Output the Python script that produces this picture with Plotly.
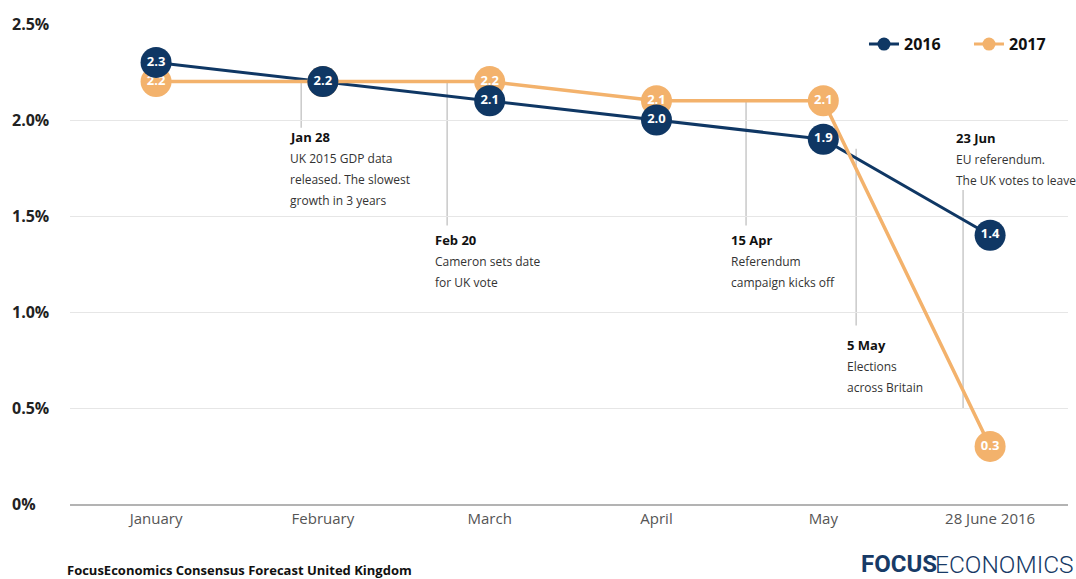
import plotly.graph_objects as go

# Consensus forecasts for UK GDP growth (%), by survey month
months = ["January", "February", "March", "April", "May", "28 June 2016"]
gdp_2016 = [2.3, 2.2, 2.1, 2.0, 1.9, 1.4]
gdp_2017 = [2.2, 2.2, 2.2, 2.1, 2.1, 0.3]

y_ticks = [0, 0.5, 1.0, 1.5, 2.0, 2.5]
y_tick_labels = ["0%", "0.5%", "1.0%", "1.5%", "2.0%", "2.5%"]

# Key events during the survey period
event_titles = ["Jan 28", "Feb 20", "15 Apr", "5 May", "23 Jun"]
event_texts = [
    ["UK 2015 GDP data", "released. The slowest", "growth in 3 years"],
    ["Cameron sets date", "for UK vote"],
    ["Referendum", "campaign kicks off"],
    ["Elections", "across Britain"],
    ["EU referendum.", "The UK votes to leave"],
]

# Placement of each event marker line and its note (axis units)
event_x = [0.87, 1.745, 3.537, 4.197, 4.838]
event_line_top = [2.2, 2.2, 2.1, 1.85, 1.635]
event_line_bottom = [1.96, 1.45, 1.45, 0.93, 0.5]
note_x = [0.791, 1.661, 3.435, 4.131, 4.783]
note_y = [1.911, 1.375, 1.375, 0.828, 1.906]

NAVY = "#0f3764"
ORANGE = "#f3b26c"
FONT = "Open Sans"

xs = list(range(len(months)))
fig = go.Figure()

# connecting lines first, then the labelled markers on top
fig.add_trace(go.Scatter(x=xs, y=gdp_2016, mode="lines",
                         line=dict(color=NAVY, width=3), showlegend=False, hoverinfo="skip"))
fig.add_trace(go.Scatter(x=xs, y=gdp_2017, mode="lines",
                         line=dict(color=ORANGE, width=3.5), showlegend=False, hoverinfo="skip"))
fig.add_trace(go.Scatter(
    x=xs, y=gdp_2017, mode="markers+text",
    marker=dict(color=ORANGE, size=31, line=dict(width=0)),
    text=[f"{v:.1f}" for v in gdp_2017], textposition="middle center",
    textfont=dict(color="white", size=13, family=FONT, weight="bold"),
    showlegend=False))
fig.add_trace(go.Scatter(
    x=xs, y=gdp_2016, mode="markers+text",
    marker=dict(color=NAVY, size=31, line=dict(width=0)),
    text=[f"{v:.1f}" for v in gdp_2016], textposition="middle center",
    textfont=dict(color="white", size=13, family=FONT, weight="bold"),
    showlegend=False))

# legend entries
for name, col in [("2016", NAVY), ("2017", ORANGE)]:
    fig.add_trace(go.Scatter(x=[None], y=[None], mode="lines+markers", name=name,
                             line=dict(color=col, width=3), marker=dict(color=col, size=13)))

shapes = []
annotations = []
for i, title in enumerate(event_titles):
    shapes.append(dict(type="line", xref="x", yref="y",
                       x0=event_x[i], x1=event_x[i],
                       y0=event_line_bottom[i], y1=event_line_top[i],
                       line=dict(color="#c9c9c9", width=1.5), layer="below"))
    annotations.append(dict(x=note_x[i], y=note_y[i], xref="x", yref="y",
                            text=f"<b>{title}</b>", showarrow=False,
                            xanchor="left", yanchor="middle",
                            font=dict(family=FONT, size=13, color="#111")))
    for j, line in enumerate(event_texts[i]):
        annotations.append(dict(x=note_x[i], y=note_y[i], xref="x", yref="y",
                                yshift=-21 * (j + 1), text=line, showarrow=False,
                                xanchor="left", yanchor="middle",
                                font=dict(family=FONT, size=12, color="#333")))

# left-aligned percentage labels
for v, lab in zip(y_ticks, y_tick_labels):
    annotations.append(dict(x=0, y=v, xref="paper", yref="y", xshift=-60,
                            text=f"<b>{lab}</b>", showarrow=False,
                            xanchor="left", yanchor="middle",
                            font=dict(family=FONT, size=16, color="#222")))

# footer: source line and wordmark
annotations.append(dict(x=0, y=0, xref="paper", yref="paper", xshift=-5, yshift=-66,
                        text="<b>FocusEconomics Consensus Forecast United Kingdom</b>",
                        showarrow=False, xanchor="left", yanchor="middle",
                        font=dict(family=FONT, size=13, color="#111")))
annotations.append(dict(x=0.8677, y=0, xref="paper", yref="paper", yshift=-60, xshift=2,
                        text="FOCUS", showarrow=False, xanchor="right", yanchor="middle",
                        borderpad=0,
                        font=dict(family="Roboto", size=24, color="#173a66", weight="bold")))
annotations.append(dict(x=0.8677, y=0, xref="paper", yref="paper", yshift=-60, xshift=-2,
                        text="ECONOMICS", showarrow=False, xanchor="left", yanchor="middle",
                        borderpad=0,
                        font=dict(family="Roboto", size=24.5, color="#173a66", weight=300)))

fig.update_layout(
    width=1076, height=579,
    margin=dict(l=70, r=8, t=24, b=75, autoexpand=False),
    paper_bgcolor="white", plot_bgcolor="white",
    font=dict(family=FONT),
    shapes=shapes, annotations=annotations,
    legend=dict(orientation="h", x=1.006, xanchor="right", y=0.958, yanchor="middle",
                font=dict(family=FONT, size=16, color="#111", weight="bold"),
                bgcolor="rgba(0,0,0,0)", entrywidth=60, entrywidthmode="pixels"),
    xaxis=dict(range=[-0.516, 5.467], tickvals=xs, ticktext=months,
               showgrid=False, zeroline=False, showline=True,
               linecolor="#b3b3b3", linewidth=2, ticks="",
               tickfont=dict(family=FONT, size=15, color="#555")),
    yaxis=dict(range=[0, 2.5], tickvals=y_ticks, showticklabels=False,
               showgrid=True, gridcolor="#e6e6e6", gridwidth=1,
               zeroline=False, showline=False),
)

fig.write_html("out.html")
